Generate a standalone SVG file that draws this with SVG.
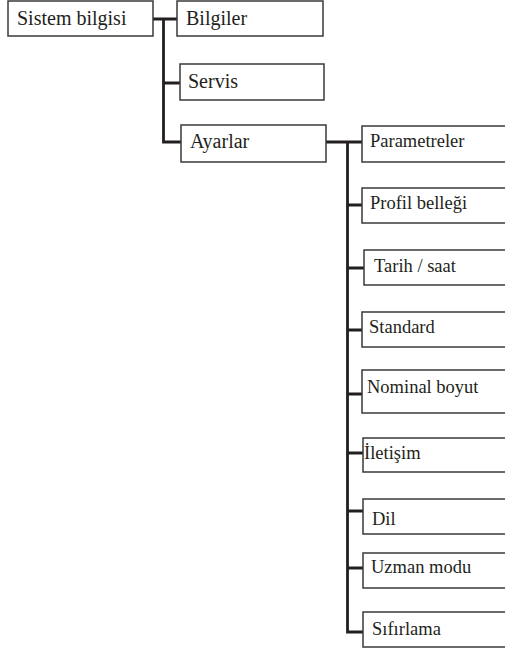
<svg xmlns="http://www.w3.org/2000/svg" width="505" height="648" viewBox="0 0 505 648">
<style>
.box{fill:#fff;stroke:#3a3a3a;stroke-width:1.5}
text{font-family:'Liberation Serif','Times New Roman',Times,'DejaVu Serif',serif;fill:#231f20}
.t1{font-size:20px}
.t2{font-size:18.5px}
.c{fill:none;stroke:#231f20;stroke-width:2.8}
</style>
<rect width="505" height="648" fill="#fff"/>
<g id="connectors">
<path class="c" d="M153,19 H177 M163.5,19 V142 H181 M163.5,83 H180"/>
<path class="c" d="M326,142 H362 M347.5,142 V632 H363 M347.5,205 H362 M347.5,268 H364 M347.5,330 H362 M347.5,394 H362 M347.5,453 H363 M347.5,511 H363 M347.5,568 H363"/>
</g>
<g id="sistem"><rect class="box" x="8" y="1" width="145" height="35"/><text class="t1" x="17" y="25">Sistem bilgisi</text></g>
<g id="bilgiler"><rect class="box" x="177" y="1" width="146" height="35"/><text class="t1" x="186" y="25">Bilgiler</text></g>
<g id="servis"><rect class="box" x="180" y="64" width="144" height="36"/><text class="t1" x="188" y="88">Servis</text></g>
<g id="ayarlar"><rect class="box" x="181" y="125" width="145" height="37"/><text class="t1" x="190" y="148">Ayarlar</text></g>
<g id="parametreler"><rect class="box" x="362" y="126" width="160" height="36"/><text class="t2" x="370" y="147">Parametreler</text></g>
<g id="profil"><rect class="box" x="362" y="188" width="160" height="35"/><text class="t2" x="370" y="209">Profil belleği</text></g>
<g id="tarih"><rect class="box" x="364" y="250" width="160" height="35"/><text class="t2" x="374" y="272">Tarih / saat</text></g>
<g id="standard"><rect class="box" x="362" y="312" width="160" height="35"/><text class="t2" x="369" y="333">Standard</text></g>
<g id="nominal"><rect class="box" x="362" y="370" width="160" height="43"/><text class="t2" x="367" y="393">Nominal boyut</text></g>
<g id="iletisim"><rect class="box" x="363" y="438" width="160" height="34"/><text class="t2" x="364" y="459">İletişim</text></g>
<g id="dil"><rect class="box" x="363" y="499" width="160" height="35"/><text class="t2" x="372" y="525">Dil</text></g>
<g id="uzman"><rect class="box" x="363" y="553" width="160" height="35"/><text class="t2" x="371" y="573">Uzman modu</text></g>
<g id="sifirlama"><rect class="box" x="363" y="612" width="160" height="35"/><text class="t2" x="372" y="635">Sıfırlama</text></g>
</svg>
